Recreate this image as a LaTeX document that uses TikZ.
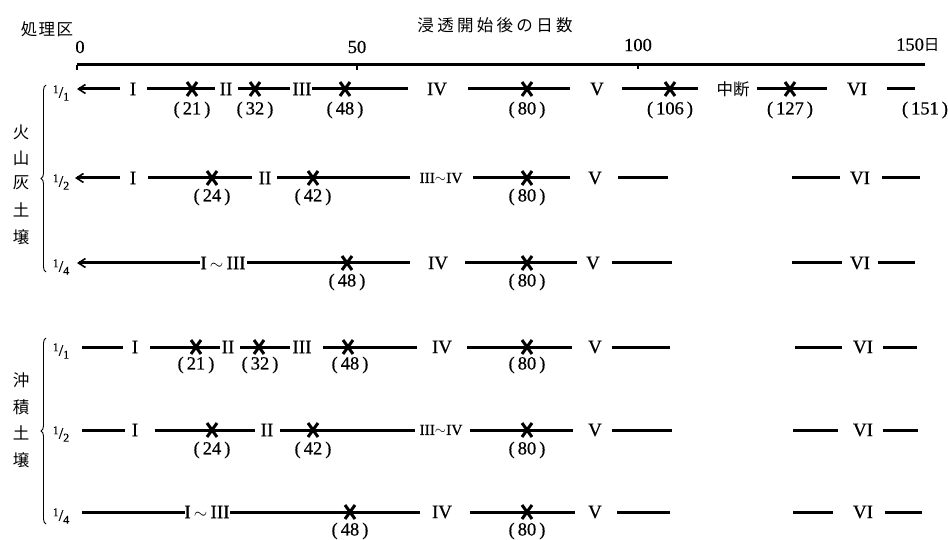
\documentclass[tikz,border=0pt]{standalone}
\usepackage{fontspec}
\setmainfont{Liberation Serif}[FakeBold=0.6]
\newfontfamily\cjk{Noto Sans CJK JP}
\usetikzlibrary{arrows.meta,decorations.pathreplacing}
\newcommand\myfrac[2]{\raisebox{4.5pt}{\fontsize{12}{12}\selectfont #1}{\fontsize{16}{16}\selectfont /}\raisebox{-3pt}{\fontsize{12}{12}\selectfont #2}}
\newcommand\pn[1]{(\hspace{3pt}#1\hspace{3pt})}
\tikzset{
  bar/.style={line width=3pt},
  axisline/.style={line width=3pt},
  lab/.style={inner sep=0pt, font=\fontsize{19}{19}\selectfont},
  slab/.style={inner sep=0pt, font=\fontsize{15.5}{15.5}\selectfont},
  num/.style={inner sep=0pt, font=\fontsize{18.5}{18.5}\selectfont},
  jp/.style={inner sep=0pt, font=\cjk\fontsize{16.5}{16.5}\selectfont},
  frac/.style={inner sep=0pt},
  arr/.style={line width=3pt, -{Straight Barb[length=7pt,width=9pt,line width=1.6pt]}},
  brc/.style={line width=0.9pt, decorate, decoration={brace, amplitude=5pt}},
  xm/.pic={\draw[line width=3pt] (-5,-7)--(5,7) (-5,7)--(5,-7);}
}
\begin{document}
\begin{tikzpicture}[x=1pt,y=-1pt]
\useasboundingbox[fill=white] (0,0) rectangle (948,540);

% headings
\node[jp] (hd1) at (47,29) {処\hspace{1.5pt}理\hspace{1.5pt}区};
\node[jp] (hd2) at (495,25) {浸\hspace{3.3pt}透\hspace{3.3pt}開\hspace{3.3pt}始\hspace{3.3pt}後\hspace{3.3pt}の\hspace{3.3pt}日\hspace{3.3pt}数};

% axis
\draw[axisline] (77,65) -- (925,65);
\draw[line width=1.6pt] (77,65) -- (77,70) (357,65) -- (357,70) (638,65) -- (638,69);
\node[num] (t0) at (80,47) {0};
\node[num] (t50) at (357,47) {50};
\node[num] (t100) at (638,45) {100};
\node[num,anchor=west] (t150) at (896,45) {150{\cjk\fontsize{15.5}{15.5}\selectfont 日}};

% left labels
\foreach \c/\yy [count=\i] in {火/132,山/158,灰/183,土/210,壌/237}
  \node[jp] (va\i) at (21,\yy) {\c};
\foreach \c/\yy [count=\i] in {沖/380,積/407,土/433,壌/460}
  \node[jp] (vb\i) at (21,\yy) {\c};
\draw[brc] (46,272) -- (46,85);
\draw[brc] (46,524) -- (46,338);

% fractions
\node[frac] (f1) at (61,93) {\myfrac{1}{1}};
\node[frac] (f2) at (61,182) {\myfrac{1}{2}};
\node[frac] (f3) at (61,267) {\myfrac{1}{4}};
\node[frac] (f4) at (61,351) {\myfrac{1}{1}};
\node[frac] (f5) at (61,434) {\myfrac{1}{2}};
\node[frac] (f6) at (61,516) {\myfrac{1}{4}};

% ---------- Row 1 ----------
\draw[arr] (120,89) -- (77,89);
\node[lab] (r1a) at (133,89) {I};
\draw[bar] (147,89) -- (215,89); \pic at (192,89) {xm};
\node[lab] (r1b) at (226,89) {II};
\draw[bar] (238,89) -- (290,89); \pic at (255,89) {xm};
\node[lab] (r1c) at (302,89) {III};
\draw[bar] (312,89) -- (408,89); \pic at (345,89) {xm};
\node[lab] (r1d) at (437,89) {IV};
\draw[bar] (468,89) -- (570,89); \pic at (527,89) {xm};
\node[lab] (r1e) at (597,89) {V};
\draw[bar] (622,89) -- (698,89); \pic at (670,89) {xm};
\node[jp] (r1f) at (733,89) {中断};
\draw[bar] (757,89) -- (827,89); \pic at (790,89) {xm};
\node[lab] (r1g) at (857,89) {VI};
\draw[bar] (887,89) -- (915,89);
\foreach \xx/\t in {192/21,255/32,345/48,527/80,670/106,790/127,925/151}
  \node[num] at (\xx,110) {\pn{\t}};

% ---------- Row 2 ----------
\draw[arr] (120,178) -- (75,178);
\node[lab] (r2a) at (133,178) {I};
\draw[bar] (148,178) -- (252,178); \pic at (212,178) {xm};
\node[lab] (r2b) at (265,178) {II};
\draw[bar] (277,178) -- (410,178); \pic at (313,178) {xm};
\node[slab] (r2c) at (441,178) {III$\sim$IV};
\draw[bar] (473,178) -- (570,178); \pic at (527,178) {xm};
\node[lab] (r2d) at (595,178) {V};
\draw[bar] (618,178) -- (668,178);
\draw[bar] (792,178) -- (840,178);
\node[lab] (r2e) at (860,178) {VI};
\draw[bar] (882,178) -- (920,178);
\foreach \xx/\t in {212/24,313/42,527/80}
  \node[num] at (\xx,197) {\pn{\t}};

% ---------- Row 3 ----------
\draw[arr] (200,263) -- (77,263);
\node[lab] (r3a) at (223,263) {I\,$\sim$\,III};
\draw[bar] (247,263) -- (410,263); \pic at (347,263) {xm};
\node[lab] (r3b) at (438,263) {IV};
\draw[bar] (465,263) -- (577,263); \pic at (527,263) {xm};
\node[lab] (r3c) at (593,263) {V};
\draw[bar] (612,263) -- (672,263);
\draw[bar] (792,263) -- (842,263);
\node[lab] (r3d) at (860,263) {VI};
\draw[bar] (878,263) -- (915,263);
\foreach \xx/\t in {347/48,527/80}
  \node[num] at (\xx,282) {\pn{\t}};

% ---------- Row 4 ----------
\draw[bar] (82,347) -- (123,347);
\node[lab] (r4a) at (135,347) {I};
\draw[bar] (150,347) -- (220,347); \pic at (196,347) {xm};
\node[lab] (r4b) at (228,347) {II};
\draw[bar] (240,347) -- (290,347); \pic at (259,347) {xm};
\node[lab] (r4c) at (302,347) {III};
\draw[bar] (323,347) -- (417,347); \pic at (348,347) {xm};
\node[lab] (r4d) at (442,347) {IV};
\draw[bar] (467,347) -- (572,347); \pic at (527,347) {xm};
\node[lab] (r4e) at (595,347) {V};
\draw[bar] (612,347) -- (670,347);
\draw[bar] (795,347) -- (842,347);
\node[lab] (r4f) at (863,347) {VI};
\draw[bar] (883,347) -- (917,347);
\foreach \xx/\t in {196/21,260/32,350/48,527/80}
  \node[num] at (\xx,365) {\pn{\t}};

% ---------- Row 5 ----------
\draw[bar] (82,430) -- (125,430);
\node[lab] (r5a) at (135,430) {I};
\draw[bar] (155,430) -- (255,430); \pic at (212,430) {xm};
\node[lab] (r5b) at (267,430) {II};
\draw[bar] (280,430) -- (415,430); \pic at (313,430) {xm};
\node[slab] (r5c) at (441,430) {III$\sim$IV};
\draw[bar] (470,430) -- (573,430); \pic at (527,430) {xm};
\node[lab] (r5d) at (595,430) {V};
\draw[bar] (612,430) -- (672,430);
\draw[bar] (793,430) -- (838,430);
\node[lab] (r5e) at (863,430) {VI};
\draw[bar] (883,430) -- (918,430);
\foreach \xx/\t in {212/24,313/42,527/80}
  \node[num] at (\xx,450) {\pn{\t}};

% ---------- Row 6 ----------
\draw[bar] (82,512) -- (185,512);
\node[lab] (r6a) at (207,512) {I\,$\sim$\,III};
\draw[bar] (230,512) -- (420,512); \pic at (350,512) {xm};
\node[lab] (r6b) at (442,512) {IV};
\draw[bar] (470,512) -- (575,512); \pic at (527,512) {xm};
\node[lab] (r6c) at (595,512) {V};
\draw[bar] (617,512) -- (670,512);
\draw[bar] (793,512) -- (833,512);
\node[lab] (r6d) at (863,512) {VI};
\draw[bar] (885,512) -- (922,512);
\foreach \xx/\t in {350/48,527/80}
  \node[num] at (\xx,531) {\pn{\t}};
\end{tikzpicture}
\end{document}
